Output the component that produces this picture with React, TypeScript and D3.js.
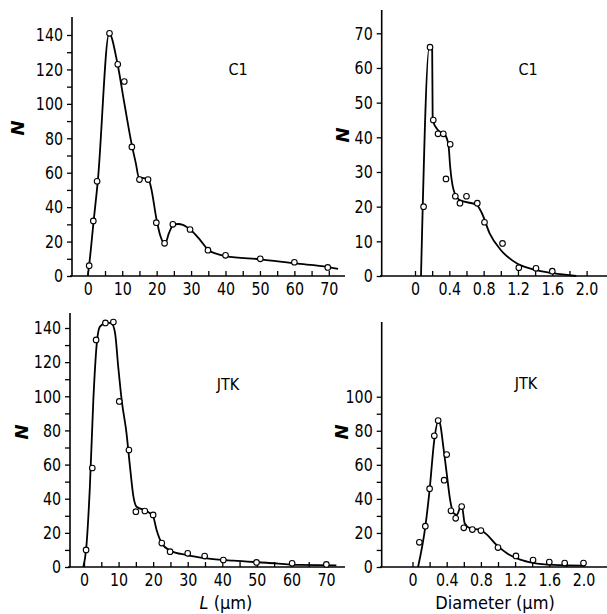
import React, { useRef, useEffect } from 'react';
import * as d3 from 'd3';

// --- measured points (open circles) ---
const c1LenX = [0.4, 1.6, 2.7, 6.3, 8.7, 10.6, 12.8, 15, 17.5, 19.9, 22.3, 24.7, 29.7, 34.9, 40, 50.1, 60, 69.7];
const c1LenN = [6, 32, 55, 141, 123, 113, 75, 56, 56, 31, 19, 30, 27, 15, 12, 10, 8, 5];

const c1DiaX = [0.1, 0.175, 0.213, 0.268, 0.33, 0.361, 0.41, 0.47, 0.524, 0.6, 0.726, 0.81, 1.02, 1.21, 1.41, 1.6];
const c1DiaN = [20, 66, 45, 41, 41, 28, 38, 23, 21, 23, 21, 15.5, 9.4, 2.4, 2.2, 1.4];

const jtkLenX = [0.6, 2.4, 3.5, 6.2, 8.5, 10.2, 13, 15, 17.6, 20, 22.5, 24.9, 30, 34.9, 40.3, 49.9, 60.2, 70.1];
const jtkLenN = [10, 58, 133, 143, 143.5, 97, 68.5, 32.4, 32.8, 30.5, 14, 9, 8, 6.4, 4.1, 2.7, 2.2, 1.5];

const jtkDiaX = [0.08, 0.15, 0.2, 0.255, 0.3, 0.37, 0.4, 0.45, 0.505, 0.575, 0.6, 0.7, 0.8, 1.0, 1.21, 1.41, 1.6, 1.78, 2.0];
const jtkDiaN = [14.5, 24, 46, 77, 86, 51, 66, 33, 28.6, 35.5, 23, 22, 21.4, 11.4, 6.5, 4.1, 2.9, 2.3, 2.3];

// --- hand drawn fitted curves ---
const c1LenCurveX = [0, 0.4, 1.7, 2.9, 6.2, 8.6, 10.6, 12.8, 14, 14.8, 17.6, 18.3, 20, 21, 22.4, 23.6, 24.8, 26.3, 27.6, 29.9, 32.6, 35, 37.5, 40.1, 50.2, 60.2, 69.8, 72.7];
const c1LenCurveN = [0, 6.4, 32, 55, 141, 123.6, 100.5, 76, 65, 57.5, 56.2, 52, 32.5, 23.8, 18.6, 25, 29.7, 30.2, 29.7, 26.7, 21, 15.1, 12.8, 11.6, 9.7, 7.3, 5.2, 4.1];

const c1DiaCurveX = [0.07, 0.167, 0.2, 0.206, 0.27, 0.35, 0.39, 0.41, 0.45, 0.52, 0.72, 0.78, 0.87, 0.99, 1.19, 1.38, 1.61, 1.88];
const c1DiaCurveN = [0, 66, 66, 45, 42, 40.7, 37.8, 31.5, 24.8, 21.9, 20.5, 18.1, 12.3, 7.8, 3.6, 1.9, 0.8, 0];

const jtkLenCurveX = [-0.2, 0.6, 1.7, 2.7, 3.7, 4.6, 6.6, 8, 9, 9.9, 10.9, 12.3, 13.3, 14.3, 15.2, 18.1, 20, 21, 22.5, 24.9, 29.7, 35.5, 43.2, 52.8, 62.4, 73];
const jtkLenCurveN = [0, 10, 47, 97.8, 131, 140.8, 143.1, 142.7, 136.9, 117.3, 97.8, 78.3, 58.8, 41.2, 35.3, 32.8, 29.5, 21.7, 13.9, 9.6, 7, 5.1, 3.7, 2.5, 1.2, 1];

const jtkDiaCurveX = [0.065, 0.15, 0.2, 0.255, 0.3, 0.32, 0.36, 0.4, 0.44, 0.48, 0.52, 0.555, 0.58, 0.61, 0.67, 0.79, 0.87, 0.98, 1.1, 1.26, 1.41, 1.65, 2.0];
const jtkDiaCurveN = [0, 23.7, 45.3, 74.7, 85.5, 84.5, 70.8, 55, 39.4, 31.6, 30.6, 34.5, 35, 25.7, 22.8, 21.8, 19, 13.1, 8.2, 4.3, 2.4, 1.2, 0.8];

// --- ticks ---
const lenTicks = d3.range(0, 71, 5);
const lenLabels = [0, 10, 20, 30, 40, 50, 60, 70];
const diaTicks = [0, 0.2, 0.4, 0.6, 0.8, 1.0, 1.2, 1.4, 1.6, 1.8, 2.0];
const diaLabels = [0, 0.4, 0.8, 1.2, 1.6, 2.0];
const nTicks140 = d3.range(0, 141, 10);
const nLabels140 = [0, 20, 40, 60, 80, 100, 120, 140];
const nTicks70 = [0, 10, 20, 30, 40, 50, 60, 70];
const nTicks100 = d3.range(0, 101, 10);
const nLabels100 = [0, 20, 40, 60, 80, 100];

const FONT = "'DejaVu Sans Condensed', 'DejaVu Sans', sans-serif";
const SQUEEZE = 0.88;

const panels = [
  {
    tag: 'C1', xs: c1LenX, ys: c1LenN, cx: c1LenCurveX, cy: c1LenCurveN,
    xDomain: [0, 70], xRange: [87.8, 328.8], yDomain: [0, 140], yRange: [276, 35],
    axisX: 72, yTop: 17, xLine: [70, 345],
    xTicks: lenTicks, xLabels: lenLabels, yTicks: nTicks140, yLabels: nLabels140,
    fmt: (d: number) => String(d), tagPos: [238, 75], nPos: [18, 128],
  },
  {
    tag: 'C1', xs: c1DiaX, ys: c1DiaN, cx: c1DiaCurveX, cy: c1DiaCurveN,
    xDomain: [0, 2], xRange: [415, 586.6], yDomain: [0, 70], yRange: [276, 33.3],
    axisX: 381.7, yTop: 10, xLine: [380, 607],
    xTicks: diaTicks, xLabels: diaLabels, yTicks: nTicks70, yLabels: nTicks70,
    fmt: (d: number) => d.toFixed(1).replace('0.0', '0'), tagPos: [528, 75], nPos: [343, 135],
  },
  {
    tag: 'JTK', xs: jtkLenX, ys: jtkLenN, cx: jtkLenCurveX, cy: jtkLenCurveN,
    xDomain: [0, 70], xRange: [84, 326], yDomain: [0, 140], yRange: [567, 328],
    axisX: 70, yTop: 313, xLine: [68, 345],
    xTicks: lenTicks, xLabels: lenLabels, yTicks: nTicks140, yLabels: nLabels140,
    fmt: (d: number) => String(d), tagPos: [228, 390], nPos: [22, 432],
    title: 'L', titlePos: [226, 609],
  },
  {
    tag: 'JTK', xs: jtkDiaX, ys: jtkDiaN, cx: jtkDiaCurveX, cy: jtkDiaCurveN,
    xDomain: [0, 2], xRange: [412.5, 583.5], yDomain: [0, 100], yRange: [567, 396.7],
    axisX: 381.7, yTop: 322, xLine: [380, 607],
    xTicks: diaTicks, xLabels: diaLabels, yTicks: nTicks100, yLabels: nLabels100,
    fmt: (d: number) => d.toFixed(1).replace('0.0', '0'), tagPos: [526, 389], nPos: [342, 432],
    title: 'Diameter', titlePos: [495, 609],
  },
];

const App = () => {
  const svgRef = useRef<SVGSVGElement>(null);

  useEffect(() => {
    const svg = d3.select(svgRef.current);
    svg.selectAll('*').remove();

    panels.forEach((p) => {
      const x = d3.scaleLinear().domain(p.xDomain).range(p.xRange);
      const y = d3.scaleLinear().domain(p.yDomain).range(p.yRange);
      const g = svg.append('g');
      const y0 = y(0);

      // axis lines
      g.append('line')
        .attr('x1', p.xLine[0]).attr('x2', p.xLine[1])
        .attr('y1', y0).attr('y2', y0)
        .attr('stroke', '#000').attr('stroke-width', 1.6);
      g.append('line')
        .attr('x1', p.axisX).attr('x2', p.axisX)
        .attr('y1', p.yTop).attr('y2', y0)
        .attr('stroke', '#000').attr('stroke-width', 1.6);

      // x axis: ticks point up into the plot
      const xAxis = g.append('g')
        .attr('transform', `translate(0,${y0})`)
        .call(
          d3.axisBottom(x)
            .tickValues(p.xTicks)
            .tickSize(-5)
            .tickPadding(4)
            .tickFormat((d: any) => (p.xLabels.some((v) => Math.abs(v - d) < 1e-6) ? p.fmt(d) : '')),
        );
      xAxis.select('.domain').remove();
      xAxis.selectAll('line').attr('stroke', '#000').attr('stroke-width', 1.3);
      xAxis.selectAll('text')
        .attr('font-family', FONT).attr('font-size', 18).attr('fill', '#000')
        .attr('dy', '0.85em')
        .attr('transform', `scale(${SQUEEZE},1)`);

      // y axis: ticks point outward
      const yAxis = g.append('g')
        .attr('transform', `translate(${p.axisX},0)`)
        .call(
          d3.axisLeft(y)
            .tickValues(p.yTicks)
            .tickSize(5)
            .tickPadding(3)
            .tickFormat((d: any) => (p.yLabels.includes(d) ? String(d) : '')),
        );
      yAxis.select('.domain').remove();
      yAxis.selectAll('line').attr('stroke', '#000').attr('stroke-width', 1.3);
      yAxis.selectAll('text')
        .attr('font-family', FONT).attr('font-size', 18).attr('fill', '#000')
        .attr('x', -9 / SQUEEZE)
        .attr('transform', `scale(${SQUEEZE},1)`);

      // fitted curve
      const pts = p.cx.map((v, i) => [v, p.cy[i]] as [number, number]);
      const line = d3.line<[number, number]>()
        .x((d) => x(d[0]))
        .y((d) => y(d[1]))
        .curve(d3.curveMonotoneX);
      g.append('path')
        .datum(pts)
        .attr('fill', 'none')
        .attr('stroke', '#000')
        .attr('stroke-width', 1.8)
        .attr('stroke-linejoin', 'round')
        .attr('d', line);

      // data points
      g.selectAll('circle.pt')
        .data(p.xs.map((v, i) => [v, p.ys[i]]))
        .enter()
        .append('circle')
        .attr('cx', (d) => x(d[0]))
        .attr('cy', (d) => y(d[1]))
        .attr('r', 2.8)
        .attr('fill', '#fff')
        .attr('stroke', '#000')
        .attr('stroke-width', 1.1);

      // sample tag
      g.append('text')
        .attr('x', p.tagPos[0]).attr('y', p.tagPos[1])
        .attr('text-anchor', 'middle')
        .attr('font-family', FONT).attr('font-size', 16)
        .text(p.tag);

      // rotated N
      g.append('text')
        .attr('transform', `translate(${p.nPos[0] + 6},${p.nPos[1]}) rotate(-90)`)
        .attr('text-anchor', 'middle')
        .attr('font-family', 'DejaVu Sans, sans-serif')
        .attr('font-size', 18)
        .attr('font-weight', 'bold')
        .attr('font-style', 'italic')
        .text('N');

      // axis title
      if (p.title) {
        const t = g.append('text')
          .attr('x', p.titlePos[0]).attr('y', p.titlePos[1])
          .attr('text-anchor', 'middle')
          .attr('font-family', FONT).attr('font-size', 18);
        if (p.title === 'L') {
          t.append('tspan').attr('font-style', 'italic').text('L');
          t.append('tspan').text(' (μm)');
        } else {
          t.text(`${p.title} (μm)`);
        }
      }
    });
  }, []);

  return (
    <svg
      ref={svgRef}
      width={607}
      height={614}
      style={{ position: 'absolute', left: 0, top: 0, background: '#fff' }}
    />
  );
};

export default App;
